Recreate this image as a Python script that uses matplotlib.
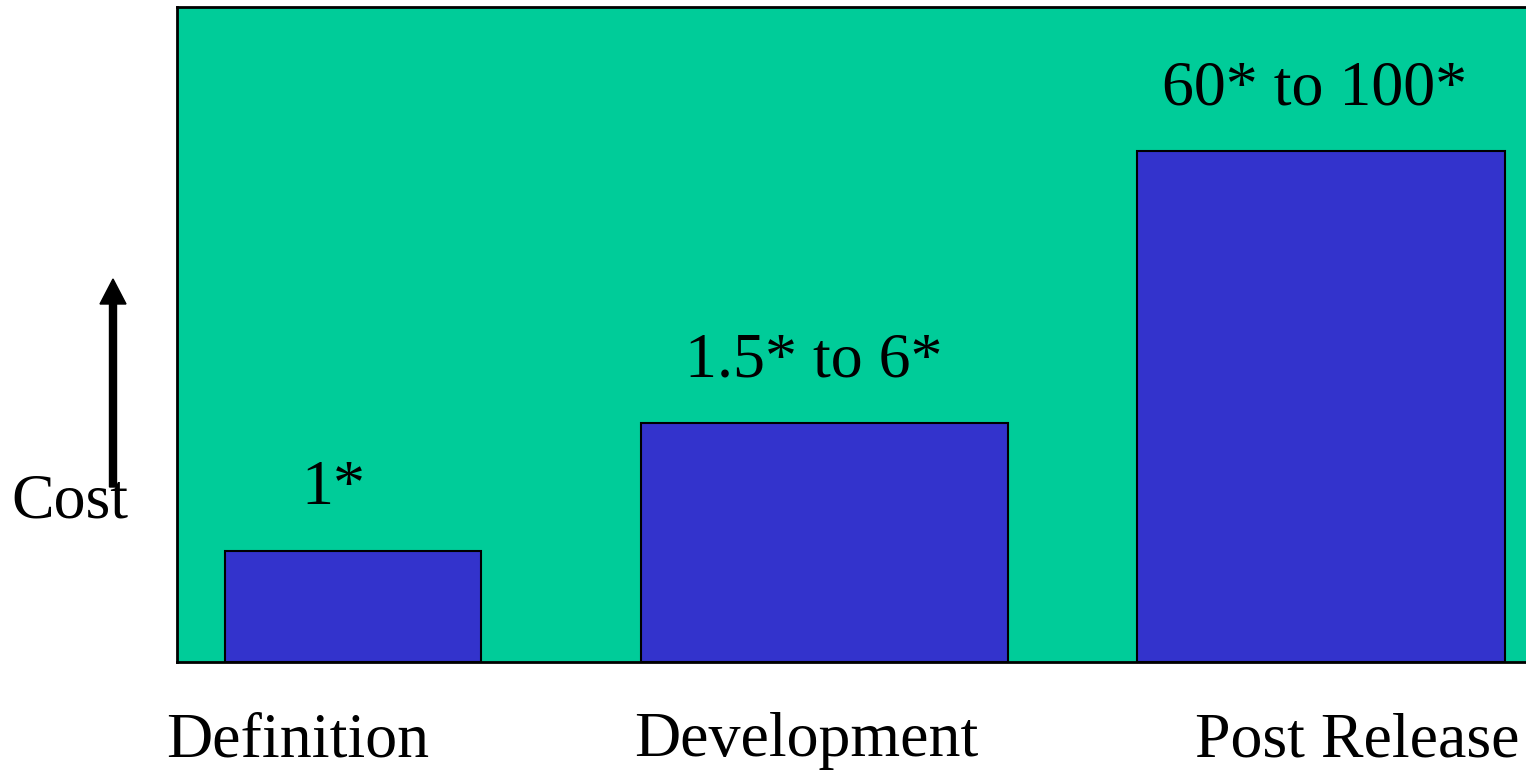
import matplotlib
matplotlib.use("Agg")
import matplotlib.pyplot as plt

# Phases and their relative cost (bar heights, in units of the Definition bar)
phases = ["Definition", "Development", "Post Release"]
heights = [1.0, 2.15, 4.6]
cost_labels = ["1*", "1.5* to 6*", "60* to 100*"]

# Bar layout on the panel (x measured in pixels from the panel's left edge)
bar_left = [48, 464, 960]
bar_width = [256, 367, 368]
cost_x = [156, 637, 1138]
phase_x = [121, 629, 1180]

green = "#00CC99"
blue = "#3333CC"

plt.rcParams["font.family"] = ["Liberation Serif", "DejaVu Serif"]

W, H = 1526, 772
fig = plt.figure(figsize=(W / 100, H / 100), dpi=100)
ax = fig.add_axes([177 / W, (H - 662) / H, (W - 177) / W, 655 / H])
ax.set_facecolor(green)
ax.set_xlim(0, W - 177)
ax.set_ylim(0, 655 / 111)

ax.bar(bar_left, heights, width=bar_width, align="edge",
       color=blue, edgecolor="black", linewidth=1.5)

# cost ranges above each bar
for x, h, lab in zip(cost_x, heights, cost_labels):
    ax.annotate(lab, xy=(x, h), xytext=(0, 34), textcoords="offset points",
                ha="center", va="baseline", fontsize=46)

# phase names under the panel
for x, name in zip(phase_x, phases):
    ax.annotate(name, xy=(x, 0), xycoords=("data", "axes fraction"),
                xytext=(0, -68), textcoords="offset points",
                ha="center", va="baseline", fontsize=46, annotation_clip=False)

ax.set_xticks([])
ax.set_yticks([])
for side in ["left", "top", "bottom"]:
    ax.spines[side].set_linewidth(2)
ax.spines["right"].set_visible(False)

# upward cost arrow to the left of the panel
fig.patches.append(matplotlib.patches.FancyArrow(
    113, H - 487, 0, 208, width=7, head_width=26, head_length=25,
    length_includes_head=True, color="black", transform=None, figure=fig))
fig.text(70 / W, (H - 518) / H, "Cost", ha="center", va="baseline", fontsize=46)

fig.savefig("out.png", dpi=100)
